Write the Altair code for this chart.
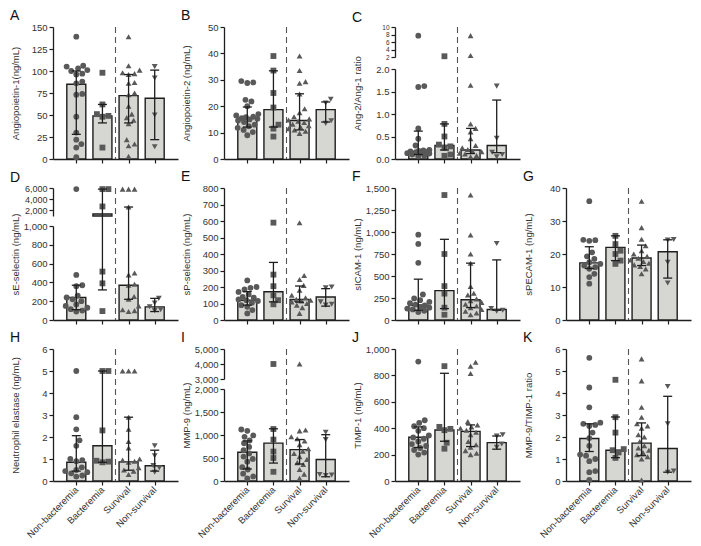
import altair as alt
import pandas as pd

GROUPS = ["Non-bacteremia", "Bacteremia", "Survival", "Non-survival"]
SHAPES = ["circle", "square", "triangle-up", "triangle-down"]

# ---------------- data ----------------
A_nonbact = [139, 106, 105, 103, 101, 100, 97, 96, 88, 86, 74, 73, 48, 30, 22, 17, 13, 2]
A_bact = [98, 62, 51, 49, 48, 13]
A_surv = [139, 106, 101, 98, 97, 96, 87, 86, 75, 73, 60, 51, 47, 44, 40, 22, 17, 15, 3]
A_nonsurv = [105, 92, 50, 14]
A_median = [85, 49, 72, 69]
A_q1 = [28, 41, 41, 22]
A_q3 = [100, 62, 96, 101]
A_ticks = [0, 25, 50, 75, 100, 125, 150]

B_nonbact = [29.5, 29, 28.8, 22.4, 21.8, 20, 17, 16.5, 16, 15.8, 15.5, 15.2, 15, 14.6, 14, 13, 12.4, 11.8, 11, 10.2, 9]
B_bact = [39, 33.5, 25, 19.5, 13, 11.5, 8.5]
B_surv = [39, 33.5, 29.3, 28.7, 24.6, 19, 17.5, 16, 15.2, 14.8, 14.3, 13.8, 13.2, 12.6, 12.1, 11.5, 11, 10.5, 9.7]
B_nonsurv = [22.6, 21.2, 14.5, 13.5]
B_median = [15.5, 18.7, 14.6, 18.7]
B_q1 = [12.1, 12.1, 11, 14]
B_q3 = [19.7, 33.4, 24.7, 21.6]
B_ticks = [0, 10, 20, 30, 40, 50]

C_nonbact = [7.7, 1.62, 1.6, 0.68, 0.45, 0.3, 0.2, 0.19, 0.18, 0.17, 0.16, 0.15, 0.14, 0.13, 0.12, 0.1, 0.08, 0.06]
C_bact = [2.2, 0.78, 0.5, 0.32, 0.28, 0.25, 0.1, 0.07]
C_surv = [7.7, 2.4, 1.64, 0.78, 0.68, 0.6, 0.45, 0.3, 0.25, 0.21, 0.18, 0.16, 0.13, 0.11, 0.08, 0.05]
C_nonsurv = [1.62, 0.46, 0.15, 0.1, 0.05]
C_median = [0.17, 0.3, 0.2, 0.3]
C_q1 = [0.1, 0.2, 0.12, 0.14]
C_q3 = [0.62, 0.78, 0.68, 1.31]
C_ticks_low = [0, 0.5, 1.0, 1.5, 2.0]
C_ticks_high = [2, 4, 6, 8, 10]

D_nonbact = [5800, 480, 370, 360, 260, 240, 220, 200, 165, 150, 130, 115, 100, 90]
D_bact = [5800, 5800, 2700, 515, 390, 95]
D_surv = [5800, 5800, 5800, 2600, 500, 480, 380, 370, 250, 220, 150, 110, 100, 90]
D_nonsurv = [230, 180, 140, 110, 100]
D_median = [240, 1350, 370, 140]
D_q1 = [110, 320, 220, 90]
D_q3 = [370, 5800, 2600, 230]
D_ticks_low = [0, 200, 400, 600, 800, 1000]
D_ticks_high = [2000, 4000, 6000]

E_nonbact = [240, 200, 195, 185, 170, 155, 140, 135, 125, 120, 115, 105, 90, 80, 60, 40]
E_bact = [590, 275, 205, 150, 120, 95]
E_surv = [590, 270, 245, 210, 180, 150, 135, 125, 120, 115, 110, 100, 90, 75, 40]
E_nonsurv = [200, 195, 110, 95, 90]
E_median = [120, 171, 124, 139]
E_q1 = [90, 110, 108, 84]
E_q3 = [172, 349, 206, 190]
E_ticks = [0, 100, 200, 300, 400, 500, 600, 700, 800]

F_nonbact = [970, 865, 650, 290, 245, 225, 205, 190, 175, 165, 150, 140, 130, 120, 105, 90]
F_bact = [1420, 750, 385, 300, 140, 60]
F_surv = [1420, 965, 750, 645, 380, 305, 285, 240, 220, 200, 180, 160, 140, 120, 100, 80, 60]
F_nonsurv = [870, 130, 110, 100]
F_median = [167, 334, 230, 119]
F_q1 = [111, 130, 141, 111]
F_q3 = [464, 917, 646, 683]
F_ticks = [0, 250, 500, 750, 1000, 1250, 1500]

G_nonbact = [36, 24.3, 24.2, 24, 20.5, 19.3, 18.5, 17.5, 17, 16.5, 16, 15.5, 14, 13, 11]
G_bact = [25.5, 23, 21, 20, 18, 17]
G_surv = [36, 28, 24.5, 22.5, 21, 20, 19.3, 18.7, 18.2, 17.7, 17.2, 16.7, 16.2, 15.5, 14]
G_nonsurv = [24.4, 24.2, 17.5, 11.2]
G_median = [17.3, 22, 18.8, 20.7]
G_q1 = [15.6, 18, 16.5, 12.7]
G_q3 = [22.2, 25.5, 22.7, 24.3]
G_ticks = [0, 10, 20, 30, 40]

H_nonbact = [5.0, 2.9, 2.35, 1.85, 1.6, 1.0, 0.95, 0.9, 0.62, 0.5, 0.45, 0.4, 0.35, 0.25, 0.2]
H_bact = [5.0, 5.0, 2.3, 0.92, 0.88, 0.85]
H_surv = [5.0, 5.0, 5.0, 2.9, 2.35, 1.8, 1.5, 1.0, 0.95, 0.9, 0.85, 0.6, 0.5, 0.45, 0.3]
H_nonsurv = [1.6, 1.15, 0.7, 0.6, 0.4]
H_median = [0.85, 1.6, 0.87, 0.69]
H_q1 = [0.45, 0.85, 0.49, 0.45]
H_q3 = [2.06, 5.0, 2.9, 1.4]
H_ticks = [0, 1, 2, 3, 4, 5, 6]

I_nonbact = [1120, 1090, 990, 960, 880, 820, 740, 670, 600, 530, 480, 420, 300, 250, 160, 100, 55]
I_bact = [4000, 1130, 900, 640, 500, 200]
I_surv = [4000, 1110, 1090, 960, 920, 870, 790, 700, 650, 600, 530, 470, 400, 360, 250, 150, 60]
I_nonsurv = [1060, 900, 140, 130, 120]
I_median = [624, 823, 681, 468]
I_q1 = [262, 390, 369, 92]
I_q3 = [872, 1135, 901, 1007]
I_ticks_low = [0, 500, 1000, 1500, 2000]
I_ticks_high = [3000, 4000, 5000]

J_nonbact = [905, 460, 440, 415, 400, 380, 345, 330, 320, 300, 280, 265, 250, 235, 215, 200]
J_bact = [870, 410, 395, 385, 290, 245]
J_surv = [900, 870, 815, 450, 425, 410, 400, 385, 370, 350, 300, 275, 255, 230, 210, 200]
J_nonsurv = [350, 340, 280, 255]
J_median = [331, 386, 376, 291]
J_q1 = [254, 301, 261, 241]
J_q3 = [410, 816, 425, 341]
J_ticks = [0, 200, 400, 600, 800, 1000]

K_nonbact = [5.6, 4.25, 3.35, 2.65, 2.6, 2.55, 2.5, 2.2, 1.95, 1.6, 1.2, 1.15, 1.0, 0.9, 0.45, 0.4, 0.05]
K_bact = [4.6, 2.9, 2.2, 1.45, 1.4, 1.3, 1.05]
K_surv = [5.55, 4.55, 3.35, 2.9, 2.6, 2.5, 2.4, 2.1, 2.0, 1.8, 1.6, 1.5, 1.4, 1.3, 1.2, 1.1, 1.0, 0.05]
K_nonsurv = [4.3, 2.6, 0.45, 0.4]
K_median = [1.93, 1.4, 1.72, 1.48]
K_q1 = [1.34, 1.06, 1.15, 0.4]
K_q3 = [2.6, 2.91, 2.64, 3.85]
K_ticks = [0, 1, 2, 3, 4, 5, 6]

# ---------------- styling / layout ----------------
W, H = 125, 132
XDOM = [-0.7, 3.7]
PX = W / (XDOM[1] - XDOM[0])
FONT = "Liberation Sans"
INK = "#1e1e1e"
TXT = "#333333"
BAR_FILL = "#d6d6d2"
PT_COL = "#595959"


def seg_pix(segs, v):
    for s in segs:
        a, b = s["domain"]
        if a <= v <= b:
            p0, p1 = s["range"]
            return p0 + (v - a) / (b - a) * (p1 - p0)
    return segs[-1]["range"][1]


def swarm(vals, segs, dmin=6.4, maxw=12):
    ys = [seg_pix(segs, v) for v in vals]
    order = sorted(range(len(vals)), key=lambda i: -ys[i])
    cands = [0.0]
    for k in range(1, maxw * 2 + 1):
        cands += [k * 0.5, -k * 0.5]
    placed = []
    offs = [0.0] * len(vals)
    for i in order:
        best = None
        for c in cands:
            if all((c - px) ** 2 + (ys[i] - py) ** 2 >= dmin ** 2 for px, py in placed):
                best = c
                break
        if best is None:
            best = max(cands, key=lambda c: min((c - px) ** 2 + (ys[i] - py) ** 2 for px, py in placed))
        placed.append((best, ys[i]))
        offs[i] = best / PX
    return offs


LABEL_EXPR = "['Non-bacteremia','Bacteremia','Survival','Non-survival'][datum.value]"


def panel(letter, ytitle, groups, med, q1, q3, segs, bottom_row):
    broken = len(segs) > 1
    if bottom_row:
        xaxis = alt.Axis(values=[0, 1, 2, 3], title=None, labelExpr=LABEL_EXPR, labelAngle=315,
                         labelAlign="right", labelBaseline="middle", labelPadding=3, grid=False,
                         labelOverlap=False, labelFontSize=9.5)
    else:
        xaxis = alt.Axis(values=[0, 1, 2, 3], title=None, labels=False, grid=False)
    xscale = alt.Scale(domain=XDOM, nice=False, zero=False)

    rows = []
    for gi, vals in enumerate(groups):
        offs = swarm(vals, segs)
        for v, o in zip(vals, offs):
            rows.append({"grp": GROUPS[gi], "idx": gi, "xj": gi + o, "v": v})
    pts = pd.DataFrame(rows)
    bars = pd.DataFrame({"idx": list(range(4)), "val": med, "lo": q1, "hi": q3})
    caps = pd.DataFrame({"idx": list(range(4)) * 2, "v": list(q1) + list(q3)})
    low_top_px = segs[0]["range"][1]

    seg_charts = []
    for si, s in enumerate(segs):
        a, b = s["domain"]
        bottom = si == 0
        yscale = alt.Scale(domain=[a, b], range=s["range"], clamp=True, nice=False, zero=False)
        axis_kw = dict(orient="left", values=s["values"], format=s["fmt"],
                       labelFontSize=s.get("lfs", 9.5), grid=False, labelOverlap=False)
        if bottom:
            axis_kw["title"] = ytitle
            if broken:
                axis_kw["titleY"] = H / 2
        else:
            axis_kw["title"] = None
        yaxis = alt.Axis(**axis_kw)
        X = alt.X("idx:Q", scale=xscale, axis=xaxis)

        layers = []
        # bars
        if bottom:
            bdf = bars[bars["val"] <= b]
            enc = dict(x=X, y=alt.Y("val:Q", scale=yscale, axis=yaxis))
        else:
            bdf = bars[bars["val"] > a]
            enc = dict(x=X, y=alt.Y("val:Q", scale=yscale, axis=yaxis), y2=alt.value(H))
        if len(bdf):
            layers.append(alt.Chart(bdf).mark_bar(size=19, fill=BAR_FILL, stroke=INK, strokeWidth=1.4)
                          .encode(**enc))
        # points
        pdf = pts[(pts["v"] >= a) & (pts["v"] <= b)] if bottom else pts[(pts["v"] > a) & (pts["v"] <= b)]
        if len(pdf):
            layers.append(alt.Chart(pdf).mark_point(filled=True, size=34, opacity=1, color=PT_COL)
                          .encode(x=alt.X("xj:Q", scale=xscale, axis=xaxis),
                                  y=alt.Y("v:Q", scale=yscale, axis=yaxis),
                                  shape=alt.Shape("grp:N", scale=alt.Scale(domain=GROUPS, range=SHAPES),
                                                  legend=None)))
        # error bars
        if bottom:
            edf = bars[bars["lo"] <= b]
            if len(edf):
                layers.append(alt.Chart(edf).mark_rule(color=INK, strokeWidth=1.3)
                              .encode(x=X, y=alt.Y("lo:Q", scale=yscale, axis=yaxis), y2="hi:Q"))
        else:
            edf = bars[(bars["hi"] > a) & (bars["lo"] < a)]
            if len(edf):
                layers.append(alt.Chart(edf).mark_rule(color=INK, strokeWidth=1.3)
                              .encode(x=X, y=alt.Y("hi:Q", scale=yscale, axis=yaxis),
                                      y2=alt.value(low_top_px)))
            edf2 = bars[bars["lo"] >= a]
            if len(edf2):
                layers.append(alt.Chart(edf2).mark_rule(color=INK, strokeWidth=1.3)
                              .encode(x=X, y=alt.Y("lo:Q", scale=yscale, axis=yaxis), y2="hi:Q"))
        # caps
        cdf = caps[(caps["v"] >= a) & (caps["v"] <= b)] if bottom else caps[(caps["v"] > a) & (caps["v"] <= b)]
        if len(cdf):
            layers.append(alt.Chart(cdf).mark_rule(color=INK, strokeWidth=1.3, xOffset=-4.5, x2Offset=4.5)
                          .encode(x=X, x2="idx:Q", y=alt.Y("v:Q", scale=yscale, axis=yaxis)))
        # dashed separator
        if bottom:
            layers.append(alt.Chart(pd.DataFrame({"d": [0]})).mark_rule(color="#555555", strokeWidth=1.1,
                                                                        strokeDash=[6, 4])
                          .encode(x=alt.datum(1.5, scale=xscale, axis=xaxis)))
        seg_charts.append(alt.layer(*layers))

    if broken:
        ch = alt.layer(*seg_charts).resolve_scale(y="independent")
    else:
        ch = seg_charts[0]
    return ch.properties(
        width=W, height=H,
        title=alt.TitleParams(letter, anchor="start", frame="bounds", fontSize=14, fontWeight="normal",
                              font=FONT, color="#111111", offset=-1))


def single(top, ticks, fmt=",d"):
    return [{"domain": [0, top], "range": [H, 0], "values": ticks, "fmt": fmt}]


pA = panel("A", "Angiopoietin-1(ng/mL)", [A_nonbact, A_bact, A_surv, A_nonsurv], A_median, A_q1, A_q3,
           single(150, A_ticks), False)
pB = panel("B", "Angiopoietin-2 (ng/mL)", [B_nonbact, B_bact, B_surv, B_nonsurv], B_median, B_q1, B_q3,
           single(50, B_ticks), False)
pC = panel("C", "Ang-2/Ang-1 ratio", [C_nonbact, C_bact, C_surv, C_nonsurv], C_median, C_q1, C_q3,
           [{"domain": [0, 2], "range": [H, 42], "values": C_ticks_low, "fmt": ".1f"},
            {"domain": [2, 10], "range": [30, 0], "values": C_ticks_high, "fmt": "d", "lfs": 6.5}], False)
pD = panel("D", "sE-selectin (ng/mL)", [D_nonbact, D_bact, D_surv, D_nonsurv], D_median, D_q1, D_q3,
           [{"domain": [0, 1000], "range": [H, 38], "values": D_ticks_low, "fmt": ",d"},
            {"domain": [1000, 6000], "range": [28, 0], "values": D_ticks_high, "fmt": ",d", "lfs": 9}], False)
pE = panel("E", "sP-selectin (ng/mL)", [E_nonbact, E_bact, E_surv, E_nonsurv], E_median, E_q1, E_q3,
           single(800, E_ticks), False)
pF = panel("F", "sICAM-1 (ng/mL)", [F_nonbact, F_bact, F_surv, F_nonsurv], F_median, F_q1, F_q3,
           single(1500, F_ticks), False)
pG = panel("G", "sPECAM-1 (ng/mL)", [G_nonbact, G_bact, G_surv, G_nonsurv], G_median, G_q1, G_q3,
           single(40, G_ticks), False)
pH = panel("H", "Neutrophil elastase (ng/mL)", [H_nonbact, H_bact, H_surv, H_nonsurv], H_median, H_q1, H_q3,
           single(6, H_ticks), True)
pI = panel("I", "MMP-9 (ng/mL)", [I_nonbact, I_bact, I_surv, I_nonsurv], I_median, I_q1, I_q3,
           [{"domain": [0, 2000], "range": [H, 40], "values": I_ticks_low, "fmt": ",d"},
            {"domain": [3000, 5000], "range": [30, 0], "values": I_ticks_high, "fmt": ",d"}], True)
pJ = panel("J", "TIMP-1 (ng/mL)", [J_nonbact, J_bact, J_surv, J_nonsurv], J_median, J_q1, J_q3,
           single(1000, J_ticks), True)
pK = panel("K", "MMP-9/TIMP-1 ratio", [K_nonbact, K_bact, K_surv, K_nonsurv], K_median, K_q1, K_q3,
           single(6, K_ticks), True)

chart = alt.vconcat(
    alt.hconcat(pA, pB, pC, spacing=3),
    alt.hconcat(pD, pE, pF, pG, spacing=3),
    alt.hconcat(pH, pI, pJ, pK, spacing=3),
    spacing=6,
).properties(padding=1).configure_view(stroke=None).configure_axis(
    grid=False, domainColor=INK, tickColor=INK, labelColor=TXT, titleColor=TXT,
    labelFont=FONT, titleFont=FONT, labelFontSize=9.5, titleFontSize=9.5, titleFontWeight="normal",
    domainWidth=1.3, tickWidth=1.2, tickSize=4, labelPadding=2,
).configure_axisY(minExtent=31, maxExtent=31, titlePadding=2)

chart.save("out.html", embed_options={"renderer": "svg", "actions": False})
